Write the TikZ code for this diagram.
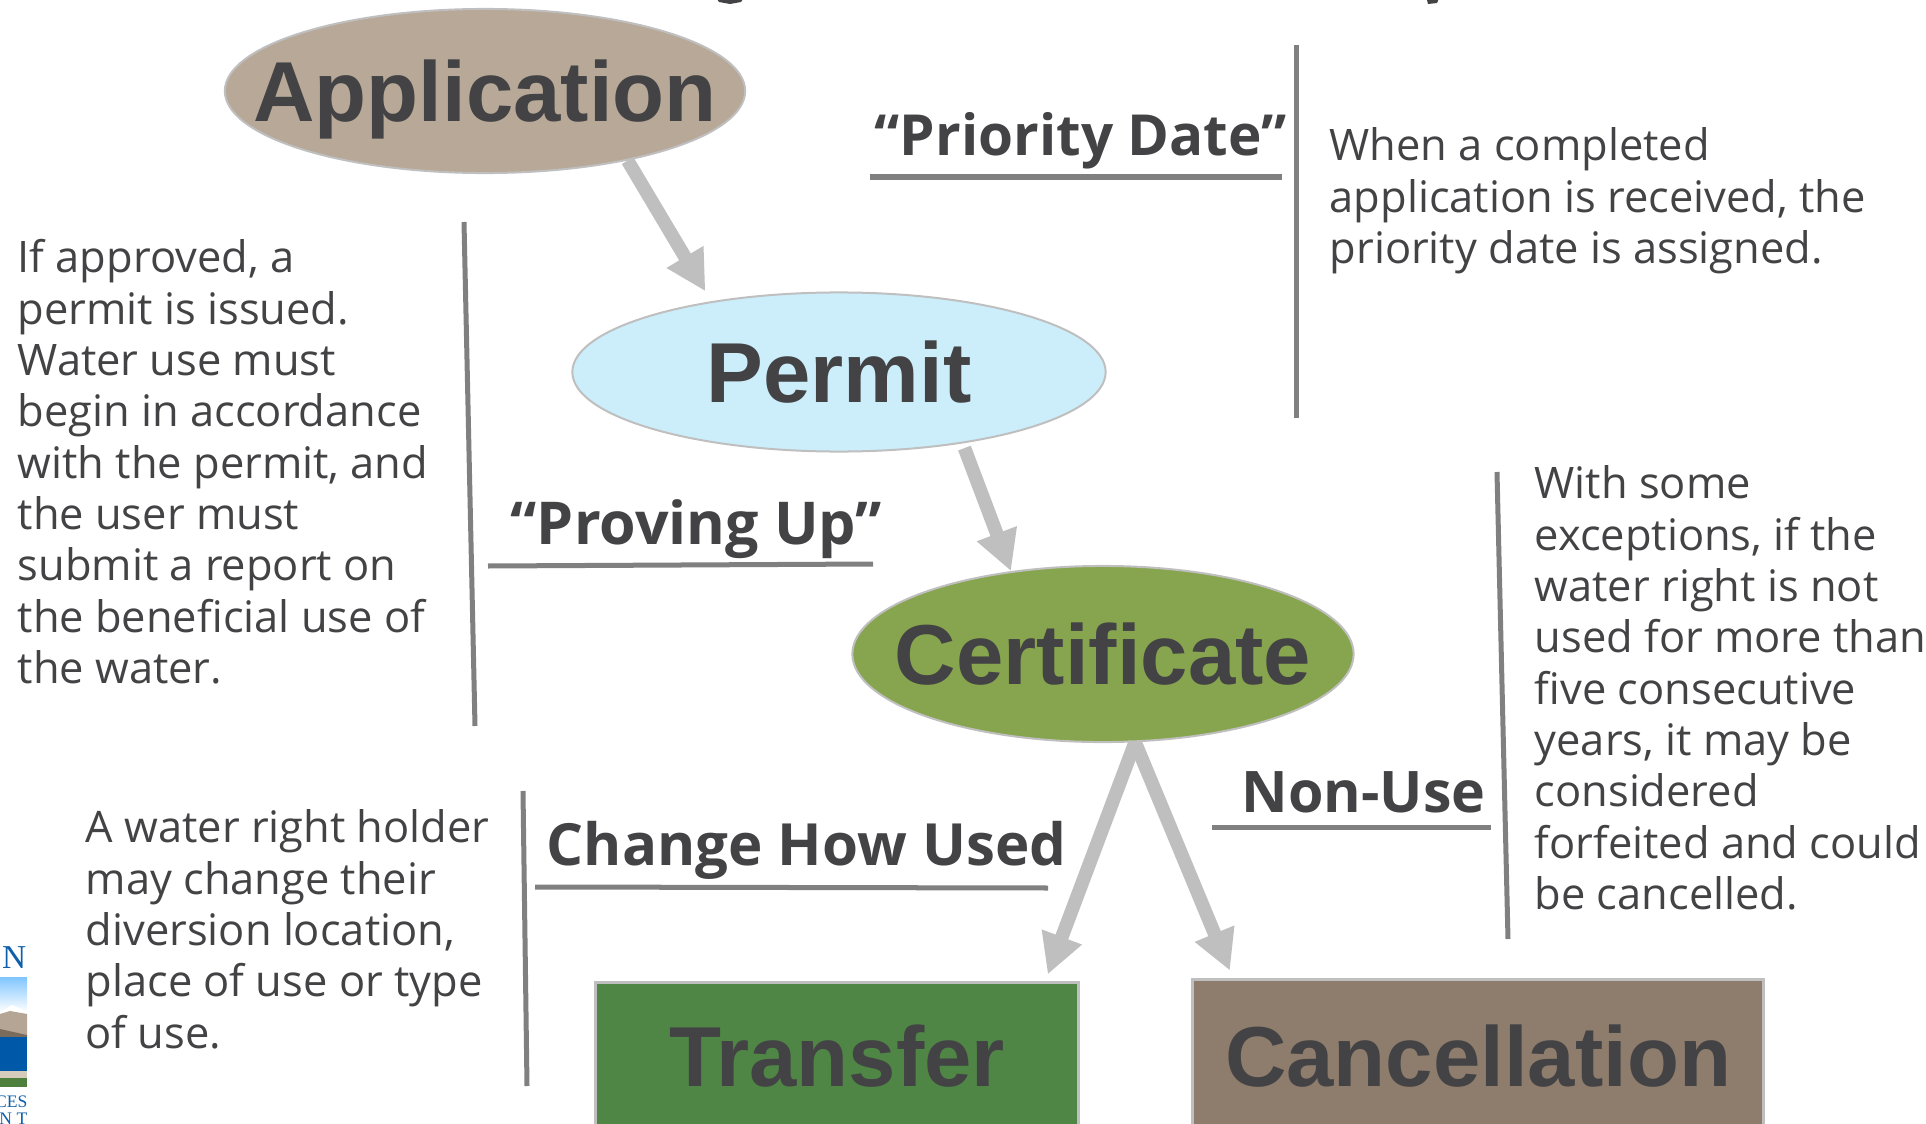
\documentclass[tikz,border=0pt]{standalone}
\usepackage{fontspec}
\setmainfont{Open Sans}
\newfontfamily\headfont{Liberation Sans}[BoldFont={Liberation Sans Bold}]
\newfontfamily\logofont{Liberation Serif}
\usetikzlibrary{shapes,arrows.meta,positioning}
\definecolor{inkgrey}{HTML}{434345}
\definecolor{rulegrey}{HTML}{808080}
\definecolor{arrowgrey}{HTML}{BFBFBF}
\definecolor{logoblue}{HTML}{0F5FAA}
\tikzset{
  stage/.style={ellipse,draw=arrowgrey,line width=0.02cm,inner ysep=0pt,inner xsep=-0.6cm,text=inkgrey,
    text depth=0pt,font=\headfont\bfseries\fontsize{24.2}{24.2}\selectfont},
  endbox/.style={rectangle,draw=arrowgrey,line width=0.03cm,inner sep=0pt,text=inkgrey,
    font=\headfont\bfseries\fontsize{24.2}{24.2}\selectfont},
  flow/.style={draw=arrowgrey,line width=0.135cm,-{Triangle[length=0.4cm,width=0.4cm]}},
  divider/.style={draw=rulegrey,line width=0.05cm},
  note/.style={anchor=north west,align=left,inner sep=0pt,text=inkgrey,
    font=\fontsize{12.35}{14.6}\selectfont},
  tag/.style={anchor=base west,inner sep=0pt,text=inkgrey,
    font=\bfseries\fontsize{#1}{#1}\selectfont},
}
\begin{document}
\begin{tikzpicture}[x=0.01cm,y=-0.01cm]
    \useasboundingbox (0,0) rectangle (1926,1124);
    % the five stages
    \node [stage,fill={rgb,255:red,184;green,168;blue,152},minimum width=5.2cm,minimum height=1.64cm] (application) at (485,91) {Application};
    \node [stage,fill={rgb,255:red,204;green,238;blue,251},minimum width=5.33cm,minimum height=1.59cm] (permit) at (839,372) {Permit};
    \node [stage,fill={rgb,255:red,135;green,165;blue,78},minimum width=5.01cm,minimum height=1.76cm] (certificate) at (1103,654) {Certificate};
    \node [endbox,fill={rgb,255:red,79;green,133;blue,69},minimum width=4.82cm,minimum height=1.46cm] (transfer) at (837,1056) {Transfer};
    \node [endbox,fill={rgb,255:red,142;green,124;blue,108},minimum width=5.70cm,minimum height=1.52cm] (cancellation) at (1478,1056) {Cancellation};
    % arrows
    \draw [flow,shorten >=0.115cm] (application.-26.5) -- (permit.151.5);
    \draw [flow,shorten <=0.05cm] (permit.-30.1) -- (certificate.138);
    \draw [flow,shorten >=0.075cm] (certificate.-70) -- ([xshift=2.08cm]transfer.north);
    \draw [flow,shorten >=0.085cm] (certificate.-70) -- ([xshift=-2.447cm]cancellation.north);
    % tags and their rules
    \node [tag=16.1] (prioritytag) at (874,156) {“Priority Date”};
    \node [tag=16.8] (provingtag) at (510,544) {“Proving Up”};
    \node [tag=16.55] (changetag) at (546,865) {Change How Used};
    \node [tag=16.3] (nonusetag) at (1241,812) {Non-Use};
    \draw [divider] (870,177) -- (1282,177);
    \draw [divider] (1296,45) -- (1296,418);
    \draw [divider] (464,222) -- (475,726);
    \draw [divider] (488,566) -- (873,564);
    \draw [divider] (535,887) -- (1048,888);
    \draw [divider] (523,791) -- (527,1086);
    \draw [divider] (1212,827) -- (1491,827);
    \draw [divider] (1497,472) -- (1508,939);
    % notes
    \node [note] (prioritynote) at (1329,127) {When a completed\\application is received, the\\priority date is assigned.};
    \node [note] (permitnote) at (17,239) {If approved, a\\permit is issued.\\Water use must\\begin in accordance\\with the permit, and\\the user must\\submit a report on\\the beneficial use of\\the water.};
    \node [note] (changenote) at (85,809) {A water right holder\\may change their\\diversion location,\\place of use or type\\of use.};
    \node [note] (nonusenote) at (1534,465) {With some\\exceptions, if the\\water right is not\\used for more than\\five consecutive\\years, it may be\\considered\\forfeited and could\\be cancelled.};
    % logo cut off by the left edge
    \fill [top color=blue!45!cyan!50,bottom color=white] (0,977) rectangle (27,1012);
    \fill [white] (0,1012) -- (12,1005) -- (27,1011) -- (27,1020) -- (0,1020) -- cycle;
    \fill [color={rgb,255:red,181;green,165;blue,149}] (0,1014) -- (10,1011) -- (27,1014) -- (27,1037) -- (0,1037) -- cycle;
    \fill [color={rgb,255:red,123;green,107;blue,93}] (0,1029) -- (27,1035) -- (27,1037) -- (0,1037) -- cycle;
    \fill [color={rgb,255:red,0;green,88;blue,168}] (0,1037) rectangle (27,1071);
    \fill [color={rgb,255:red,213;green,204;blue,187}] (0,1071) rectangle (27,1078);
    \fill [color={rgb,255:red,79;green,127;blue,60}] (0,1078) rectangle (27,1087);
    \node [anchor=base east,inner sep=0pt,text=logoblue,font=\logofont\fontsize{9.5}{9.5}\selectfont] (logotop) at (27,968) {N};
    \node [anchor=base east,inner sep=0pt,text=logoblue,font=\logofont\fontsize{5}{5}\selectfont] (logomid) at (28,1107) {CES};
    \node [anchor=base east,inner sep=0pt,text=logoblue,font=\logofont\fontsize{5}{5}\selectfont] (logolow) at (28,1124) {N T};
    % descenders of the cut off heading
    \fill [inkgrey] (715,-4) -- (745,-4) -- (741,2) -- (730,4) -- (719,2) -- cycle;
    \fill [inkgrey] (1426,-4) -- (1440,-4) -- (1437,3) -- (1428,4) -- cycle;
  \end{tikzpicture}
\end{document}
